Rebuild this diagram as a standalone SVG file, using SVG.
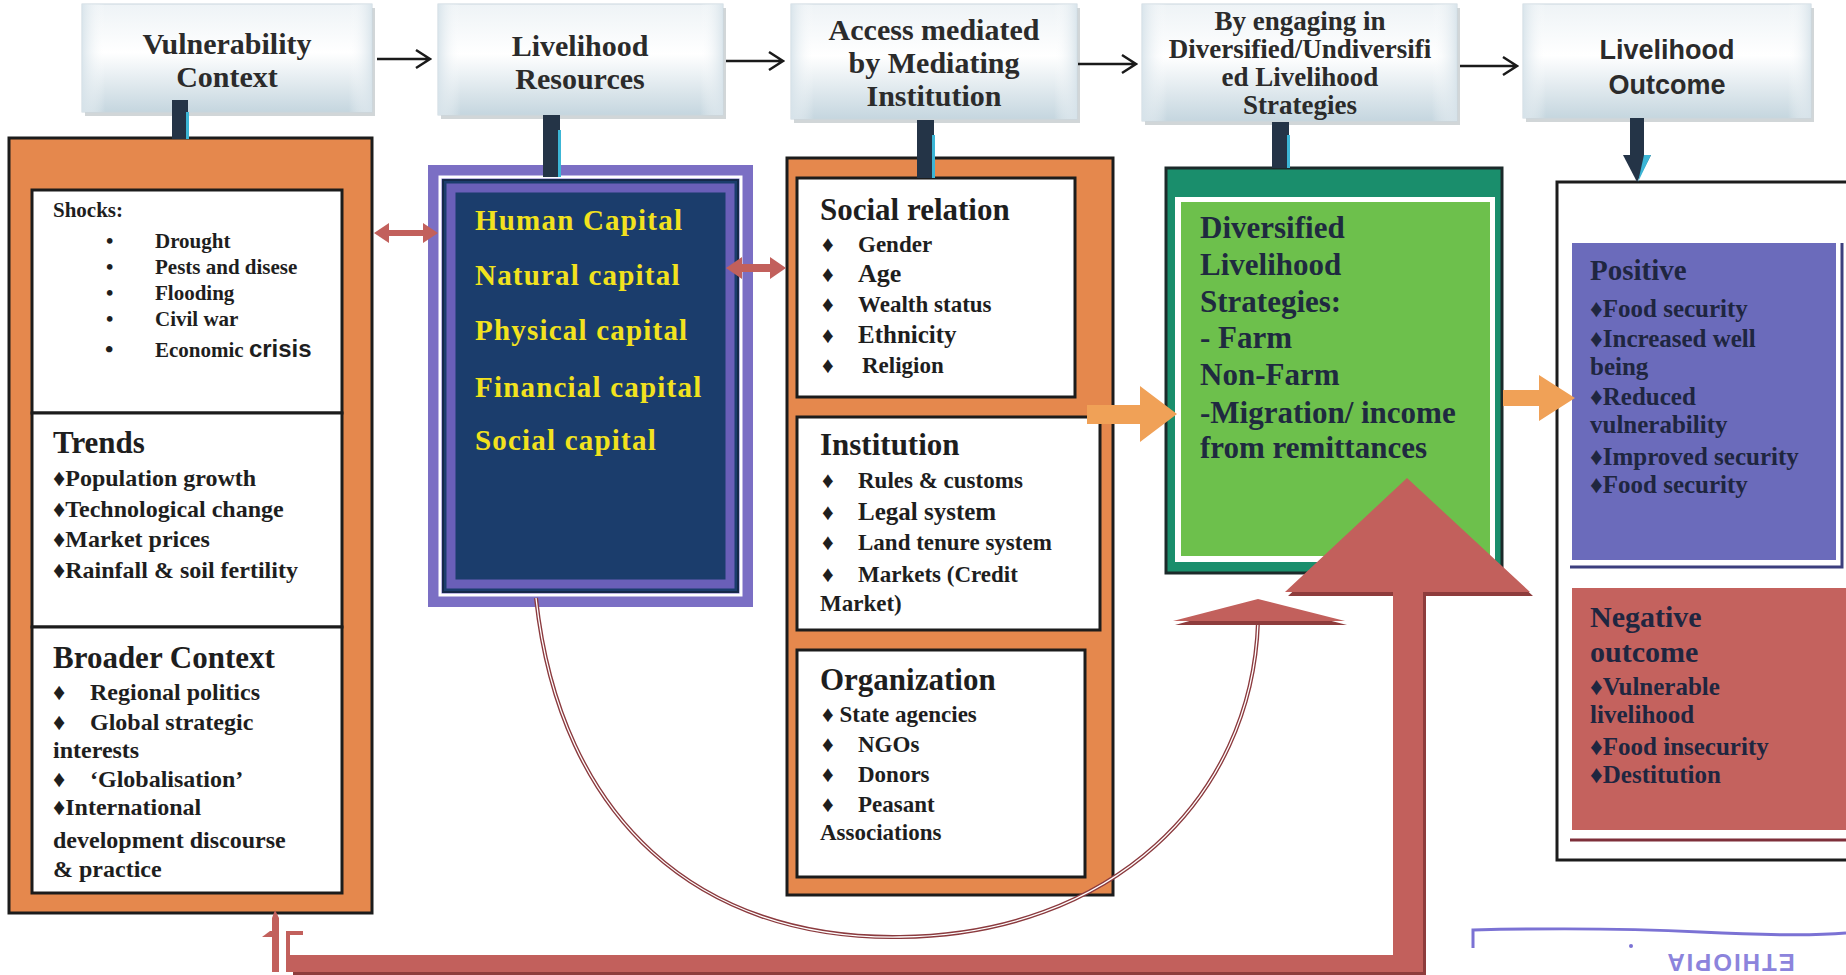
<svg xmlns="http://www.w3.org/2000/svg" width="1846" height="975" viewBox="0 0 1846 975">
<defs>
<linearGradient id="hdr" x1="0" y1="0" x2="0" y2="1">
<stop offset="0" stop-color="#eef3f6"/>
<stop offset="0.45" stop-color="#ffffff"/>
<stop offset="1" stop-color="#c5d6df"/>
</linearGradient>
<linearGradient id="hdrside" x1="0" y1="0" x2="1" y2="0">
<stop offset="0" stop-color="#d7e3ea" stop-opacity="0.9"/>
<stop offset="0.08" stop-color="#ffffff" stop-opacity="0"/>
<stop offset="0.92" stop-color="#ffffff" stop-opacity="0"/>
<stop offset="1" stop-color="#d7e3ea" stop-opacity="0.9"/>
</linearGradient>
</defs>
<style>
.hbox{fill:url(#hdr);stroke:#c9d6dd;stroke-width:1}
.hside{fill:url(#hdrside)}
.hshadow{fill:#9aa3a8;opacity:0.45}
.ht{font-family:"Liberation Serif",serif;font-weight:bold;font-size:30px;fill:#2b2b2b;text-anchor:middle}
.hts{font-family:"Liberation Sans",sans-serif;font-weight:bold;font-size:27px;fill:#2b2b2b;text-anchor:middle}
.orange{fill:#e5884d;stroke:#1c1c1c;stroke-width:3}
.white{fill:#ffffff;stroke:#1c1c1c;stroke-width:3}
.t{font-family:"Liberation Serif",serif;font-weight:bold;fill:#1e1e1e}
.s21{font-size:21px}
.s23{font-size:23px}
.s24{font-size:24px}
.s25{font-size:25px}
.s31{font-size:31px}
.cap{font-family:"Liberation Serif",serif;font-weight:bold;font-size:29px;fill:#f2e21e;letter-spacing:1.2px}
.gt{font-family:"Liberation Serif",serif;font-weight:bold;font-size:31px;fill:#1f2a40}
.ot{font-family:"Liberation Serif",serif;font-weight:bold;fill:#1f2640}
.navy{fill:#243447}
.cyan{fill:#3cb6d6}
.red{fill:#c2605c}
.redd{fill:#8e3c3c}
.or{fill:#f0a157}
.harrow{fill:none;stroke:#1a1a1a;stroke-width:2.5}
</style>

<!-- header nodes -->
<g id="hdr-vulnerability">
<rect class="hshadow" x="85" y="8" width="290" height="108"/>
<rect class="hbox" x="82" y="4" width="290" height="108"/>
<rect class="hside" x="82" y="4" width="290" height="108"/>
<text class="ht" x="227" y="54">Vulnerability</text>
<text class="ht" x="227" y="87">Context</text>
</g>
<g id="hdr-resources">
<rect class="hshadow" x="441" y="8" width="285" height="111"/>
<rect class="hbox" x="438" y="4" width="285" height="111"/>
<rect class="hside" x="438" y="4" width="285" height="111"/>
<text class="ht" x="580" y="56">Livelihood</text>
<text class="ht" x="580" y="89">Resources</text>
</g>
<g id="hdr-access">
<rect class="hshadow" x="794" y="8" width="286" height="115"/>
<rect class="hbox" x="791" y="4" width="286" height="115"/>
<rect class="hside" x="791" y="4" width="286" height="115"/>
<text class="ht" x="934" y="40">Access mediated</text>
<text class="ht" x="934" y="73">by Mediating</text>
<text class="ht" x="934" y="106">Institution</text>
</g>
<g id="hdr-engaging">
<rect class="hshadow" x="1145" y="8" width="315" height="117"/>
<rect class="hbox" x="1142" y="4" width="315" height="117"/>
<rect class="hside" x="1142" y="4" width="315" height="117"/>
<text class="ht" x="1300" y="30" style="font-size:27px">By engaging in</text>
<text class="ht" x="1300" y="58" style="font-size:27px">Diversified/Undiversifi</text>
<text class="ht" x="1300" y="86" style="font-size:27px">ed Livelihood</text>
<text class="ht" x="1300" y="114" style="font-size:27px">Strategies</text>
</g>
<g id="hdr-outcome">
<rect class="hshadow" x="1526" y="8" width="288" height="114"/>
<rect class="hbox" x="1523" y="4" width="288" height="114"/>
<rect class="hside" x="1523" y="4" width="288" height="114"/>
<text class="hts" x="1667" y="59">Livelihood</text>
<text class="hts" x="1667" y="94">Outcome</text>
</g>

<!-- vulnerability context box -->
<g id="vulnerability-box">
<rect class="orange" x="9" y="138" width="363" height="775"/>
<rect class="white" x="32" y="190" width="310" height="223"/>
<rect class="white" x="32" y="413" width="310" height="214"/>
<rect class="white" x="32" y="627" width="310" height="266"/>
<text class="t s21" x="53" y="217">Shocks:</text>
<g class="t s21">
<text x="106" y="248">•</text><text x="155" y="248">Drought</text>
<text x="106" y="274">•</text><text x="155" y="274">Pests and disese</text>
<text x="106" y="300">•</text><text x="155" y="300">Flooding</text>
<text x="106" y="326">•</text><text x="155" y="326">Civil war</text>
<text x="105" y="357" style="font-size:24px">•</text><text x="155" y="357">Economic <tspan style="font-family:'Liberation Sans',sans-serif;font-size:24px">crisis</tspan></text>
</g>
<text class="t s31" x="53" y="453" fill="#333">Trends</text>
<g class="t s24">
<text x="53" y="486">♦Population growth</text>
<text x="53" y="517">♦Technological change</text>
<text x="53" y="547">♦Market prices</text>
<text x="53" y="578">♦Rainfall &amp; soil fertility</text>
</g>
<text class="t s31" x="53" y="668" fill="#333">Broader Context</text>
<g class="t s24">
<text x="53" y="700">♦</text><text x="90" y="700">Regional politics</text>
<text x="53" y="730">♦</text><text x="90" y="730">Global strategic</text>
<text x="53" y="758">interests</text>
<text x="53" y="787">♦</text><text x="90" y="787">‘Globalisation’</text>
<text x="53" y="815">♦International</text>
<text x="53" y="848">development discourse</text>
<text x="53" y="877">&amp; practice</text>
</g>
</g>

<!-- livelihood resources box -->
<g id="resources-box">
<rect x="428" y="165" width="325" height="442" fill="#7b6fc4"/>
<rect x="440" y="177" width="301" height="418" fill="none" stroke="#ffffff" stroke-width="3"/>
<rect x="443" y="180" width="295" height="412" fill="#1b3d6c" stroke="#15294a" stroke-width="2"/>
<rect x="451" y="188" width="279" height="396" fill="none" stroke="#6a5fb8" stroke-width="9"/>
<text class="cap" x="475" y="230">Human Capital</text>
<text class="cap" x="475" y="285">Natural capital</text>
<text class="cap" x="475" y="340">Physical capital</text>
<text class="cap" x="475" y="397">Financial capital</text>
<text class="cap" x="475" y="450">Social capital</text>
</g>

<!-- mediating institution box -->
<g id="institution-box">
<rect class="orange" x="787" y="158" width="326" height="737"/>
<rect class="white" x="797" y="178" width="278" height="219"/>
<rect class="white" x="797" y="417" width="303" height="213"/>
<rect class="white" x="797" y="650" width="288" height="227"/>
<text class="t s31" x="820" y="220">Social relation</text>
<g class="t s23">
<text x="822" y="252">♦</text><text x="858" y="252">Gender</text>
<text x="822" y="282">♦</text><text x="858" y="282" style="font-size:26px">Age</text>
<text x="822" y="312">♦</text><text x="858" y="312">Wealth status</text>
<text x="822" y="343">♦</text><text x="858" y="343" style="font-size:25px">Ethnicity</text>
<text x="822" y="373">♦</text><text x="862" y="373">Religion</text>
</g>
<text class="t s31" x="820" y="455">Institution</text>
<g class="t s23">
<text x="822" y="488">♦</text><text x="858" y="488">Rules &amp; customs</text>
<text x="822" y="520">♦</text><text x="858" y="520" style="font-size:25px">Legal system</text>
<text x="822" y="550">♦</text><text x="858" y="550">Land tenure system</text>
<text x="822" y="582">♦</text><text x="858" y="582">Markets (Credit</text>
<text x="820" y="611">Market)</text>
</g>
<text class="t s31" x="820" y="690">Organization</text>
<g class="t s23">
<text x="822" y="722">♦ State agencies</text>
<text x="822" y="752">♦</text><text x="858" y="752">NGOs</text>
<text x="822" y="782">♦</text><text x="858" y="782">Donors</text>
<text x="822" y="812">♦</text><text x="858" y="812">Peasant</text>
<text x="820" y="840">Associations</text>
</g>
</g>

<!-- strategies box -->
<g id="strategies-box">
<rect x="1166" y="168" width="336" height="405" fill="#1a8e6c" stroke="#1c2a2a" stroke-width="3"/>
<rect x="1175" y="197" width="320" height="365" fill="#ffffff"/>
<rect x="1181" y="202" width="309" height="354" fill="#6dc04c"/>
<text class="gt" x="1200" y="238">Diversified</text>
<text class="gt" x="1200" y="275">Livelihood</text>
<text class="gt" x="1200" y="312">Strategies:</text>
<text class="gt" x="1200" y="348">- Farm</text>
<text class="gt" x="1200" y="385">Non-Farm</text>
<text class="gt" x="1200" y="423">-Migration/ income</text>
<text class="gt" x="1200" y="458">from remittances</text>
</g>

<!-- outcome box -->
<g id="outcome-box">
<rect x="1557" y="182" width="300" height="678" fill="#ffffff" stroke="#1c1c1c" stroke-width="3"/>
<g id="positive">
<rect x="1572" y="243" width="264" height="317" fill="#6b6bbb"/>
<path d="M1842 243 V567 H1570" fill="none" stroke="#3c3f7e" stroke-width="3"/>
<text class="ot" x="1590" y="280" style="font-size:29px">Positive</text>
<g class="ot s25">
<text x="1590" y="317">♦Food security</text>
<text x="1590" y="347">♦Increased well</text>
<text x="1590" y="375">being</text>
<text x="1590" y="405">♦Reduced</text>
<text x="1590" y="433">vulnerability</text>
<text x="1590" y="465">♦Improved security</text>
<text x="1590" y="493">♦Food security</text>
</g>
</g>
<g id="negative">
<rect x="1572" y="588" width="280" height="242" fill="#c4625e"/>
<path d="M1570 840 H1850" fill="none" stroke="#7e2f3a" stroke-width="3"/>
<text class="ot" x="1590" y="627" style="font-size:30px">Negative</text>
<text class="ot" x="1590" y="662" style="font-size:30px">outcome</text>
<g class="ot s25">
<text x="1590" y="695">♦Vulnerable</text>
<text x="1590" y="723">livelihood</text>
<text x="1590" y="755">♦Food insecurity</text>
<text x="1590" y="783">♦Destitution</text>
</g>
</g>
</g>

<!-- connectors -->
<g id="connectors">
<path class="harrow" d="M377 59 H429 M416 50 L430 59 L416 68"/>
<path class="harrow" d="M726 61 H782 M769 52 L783 61 L769 70"/>
<path class="harrow" d="M1078 64 H1135 M1122 55 L1136 64 L1122 73"/>
<path class="harrow" d="M1460 66 H1516 M1503 57 L1517 66 L1503 75"/>

<rect class="navy" x="172" y="100" width="16" height="39"/>
<rect class="cyan" x="186" y="112" width="3" height="27"/>
<rect class="navy" x="543" y="115" width="17" height="62"/>
<rect class="cyan" x="558" y="130" width="3" height="47"/>
<rect class="navy" x="917" y="120" width="17" height="58"/>
<rect class="cyan" x="932" y="135" width="3" height="43"/>
<rect class="navy" x="1272" y="122" width="17" height="46"/>
<rect class="cyan" x="1287" y="135" width="3" height="33"/>
<rect class="navy" x="1630" y="118" width="14" height="44"/>
<polygon class="navy" points="1623,155 1651,155 1637,182"/>
<polygon class="cyan" points="1644,155 1651,155 1638,182"/>

<polygon class="red" points="374,233 389,223 389,230 423,230 423,223 438,233 423,243 423,236 389,236 389,243"/>
<polygon class="red" points="726,268 742,257 742,264 770,264 770,257 786,268 770,279 770,272 742,272 742,279"/>

<polygon class="or" points="1087,405 1140,405 1140,386 1177,414 1140,442 1140,424 1087,424"/>
<polygon class="or" points="1503,390 1539,390 1539,375 1575,398 1539,421 1539,406 1503,406"/>

<path d="M536 598 C560 820 700 940 900 937 C1110 935 1252 800 1258 622" fill="none" stroke="#8b3a3e" stroke-width="4"/>
<path d="M536 598 C560 820 700 940 900 937 C1110 935 1252 800 1258 622" fill="none" stroke="#ffffff" stroke-width="1.3"/>
<polygon class="redd" points="1258,602 1347,625 1175,625"/>
<polygon class="red" points="1258,599 1345,621 1173,621"/>

<polygon class="redd" points="1410,482 1533,596 1426,596 1426,975 293,975 293,959 1396,959 1396,596 1288,596"/>
<polygon class="red" points="1407,478 1530,592 1423,592 1423,972 290,972 290,955 1393,955 1393,592 1285,592"/>
<polygon class="red" points="275,910 279,918 279,972 272,972 272,918"/>
<polygon class="red" points="262,937 270,931 272,931 272,937"/>
<path d="M288 972 V933 H303" fill="none" stroke="#c2605c" stroke-width="4"/>
</g>

<!-- stamp -->
<g id="stamp">
<path d="M1473 948 V930 Q1600 927 1700 932 T1846 933" fill="none" stroke="#7b72d4" stroke-width="3"/>
<circle cx="1631" cy="946" r="2" fill="#7b72d4"/>
<text x="1730" y="954" transform="rotate(180 1730 954)" text-anchor="middle" style="font-family:'Liberation Sans',sans-serif;font-weight:bold;font-size:24px;letter-spacing:2px" fill="#8c84dc">ETHIOPIA</text>
</g>
</svg>
